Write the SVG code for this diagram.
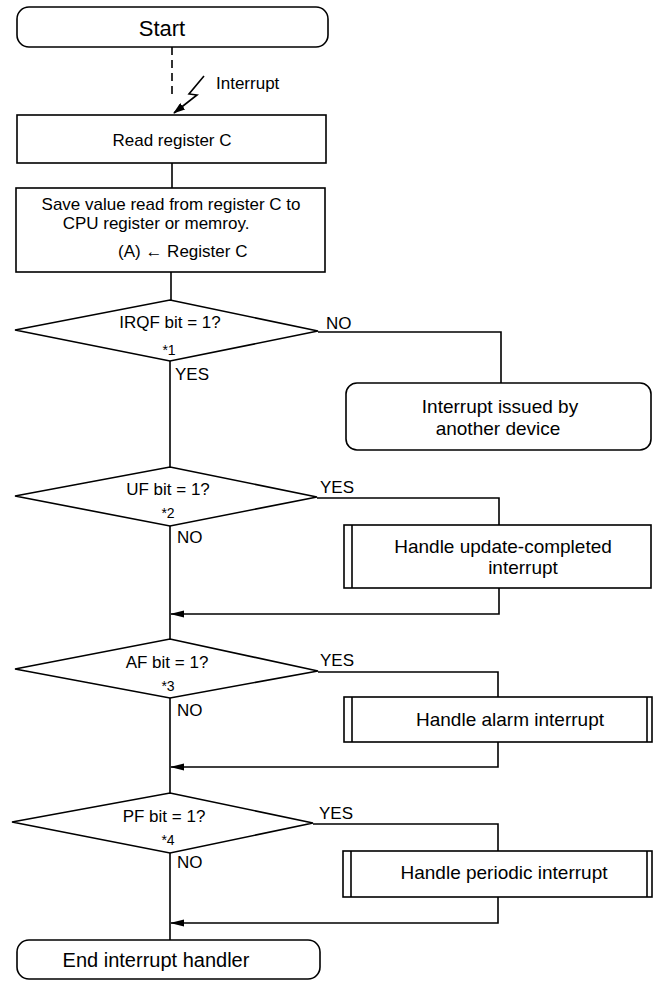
<svg xmlns="http://www.w3.org/2000/svg" width="653" height="987" viewBox="0 0 653 987">
<style>
.box{fill:#fff;stroke:#000;stroke-width:1.6}
.ln{fill:none;stroke:#000;stroke-width:1.6}
text{font-family:"Liberation Sans",Arial,sans-serif;fill:#000}
.t{font-size:17px}
.r{font-size:19px}
.s{font-size:14px}
.c{text-anchor:middle}
</style>
<defs>
<marker id="ah" markerWidth="14" markerHeight="8" refX="13" refY="4" orient="auto" markerUnits="userSpaceOnUse">
<path d="M0,0.5 L14,4 L0,7.5 z" fill="#000"/>
</marker>
<marker id="bolt" markerWidth="12" markerHeight="8" refX="11" refY="4" orient="auto" markerUnits="userSpaceOnUse">
<path d="M0,0 L12,4 L0,8 z" fill="#000"/>
</marker>
</defs>
<rect width="653" height="987" fill="#fff"/>

<g id="connectors">
<line class="ln" x1="172" y1="47" x2="172" y2="97" stroke-dasharray="8,5"/>
<polyline class="ln" points="204,76 189,94 197,95 174,113" marker-end="url(#bolt)"/>
<line class="ln" x1="172" y1="163" x2="172" y2="188"/>
<line class="ln" x1="171" y1="272" x2="171" y2="300"/>
<polyline class="ln" points="318,332 501,332 501,383"/>
<line class="ln" x1="170" y1="361" x2="170" y2="467"/>
<polyline class="ln" points="317,498 499,498 499,525"/>
<polyline class="ln" points="499,588 499,614 171,614" marker-end="url(#ah)"/>
<line class="ln" x1="170" y1="526" x2="170" y2="639"/>
<polyline class="ln" points="318,672 498,672 498,697"/>
<polyline class="ln" points="498,742 498,767 171,767" marker-end="url(#ah)"/>
<line class="ln" x1="170" y1="698" x2="170" y2="793"/>
<polyline class="ln" points="313,824 498,824 498,851"/>
<polyline class="ln" points="498,897 498,923 171,923" marker-end="url(#ah)"/>
<line class="ln" x1="170" y1="853" x2="170" y2="940"/>
</g>

<text class="t" x="216" y="89">Interrupt</text>

<g id="start">
<rect class="box" x="17" y="7" width="311" height="40" rx="12"/>
<text class="c" x="162" y="36" font-size="22">Start</text>
</g>

<g id="read">
<rect class="box" x="17" y="115" width="309" height="48"/>
<text class="t c" x="172" y="146">Read register C</text>
</g>

<g id="save">
<rect class="box" x="16" y="188" width="309" height="84"/>
<text class="t c" x="171" y="210">Save value read from register C to</text>
<text class="t c" x="156" y="229">CPU register or memroy.</text>
<text class="t" x="118" y="257">(A)  ←  Register C</text>
</g>

<g id="irqf">
<polygon class="box" points="170,300 318,331 170,361 15,330"/>
<text class="t c" x="170" y="328">IRQF bit = 1?</text>
<text class="s c" x="169" y="355">*1</text>
<text class="t" x="326" y="329">NO</text>
<text class="t" x="175" y="380">YES</text>
</g>

<g id="other">
<rect class="box" x="346" y="383" width="305" height="67" rx="11"/>
<text class="r c" x="500" y="413">Interrupt issued by</text>
<text class="r c" x="498" y="435">another device</text>
</g>

<g id="uf">
<polygon class="box" points="170,467 317,497 170,526 15,496"/>
<text class="t c" x="168" y="495">UF bit = 1?</text>
<text class="s c" x="168" y="518">*2</text>
<text class="t" x="320" y="493">YES</text>
<text class="t" x="177" y="543">NO</text>
</g>

<g id="update">
<rect class="box" x="344" y="525" width="307" height="63"/>
<line class="ln" x1="352" y1="525" x2="352" y2="588"/>
<text class="r c" x="503" y="553">Handle update-completed</text>
<text class="r c" x="523" y="574">interrupt</text>
</g>

<g id="af">
<polygon class="box" points="170,639 318,671 170,698 15,669"/>
<text class="t c" x="167" y="668">AF bit = 1?</text>
<text class="s c" x="168" y="691">*3</text>
<text class="t" x="320" y="666">YES</text>
<text class="t" x="177" y="716">NO</text>
</g>

<g id="alarm">
<rect class="box" x="344" y="697" width="308" height="45"/>
<line class="ln" x1="352" y1="697" x2="352" y2="742"/>
<line class="ln" x1="647" y1="697" x2="647" y2="742"/>
<text class="r c" x="510" y="726">Handle alarm interrupt</text>
</g>

<g id="pf">
<polygon class="box" points="170,793 313,823 170,853 12,822"/>
<text class="t c" x="164" y="822">PF bit = 1?</text>
<text class="s c" x="168" y="845">*4</text>
<text class="t" x="319" y="819">YES</text>
<text class="t" x="177" y="868">NO</text>
</g>

<g id="periodic">
<rect class="box" x="343" y="851" width="309" height="46"/>
<line class="ln" x1="351" y1="851" x2="351" y2="897"/>
<line class="ln" x1="647" y1="851" x2="647" y2="897"/>
<text class="r c" x="504" y="879">Handle periodic interrupt</text>
</g>

<g id="end">
<rect class="box" x="17" y="940" width="303" height="39" rx="12"/>
<text class="c" x="156" y="967" font-size="20">End interrupt handler</text>
</g>
</svg>
